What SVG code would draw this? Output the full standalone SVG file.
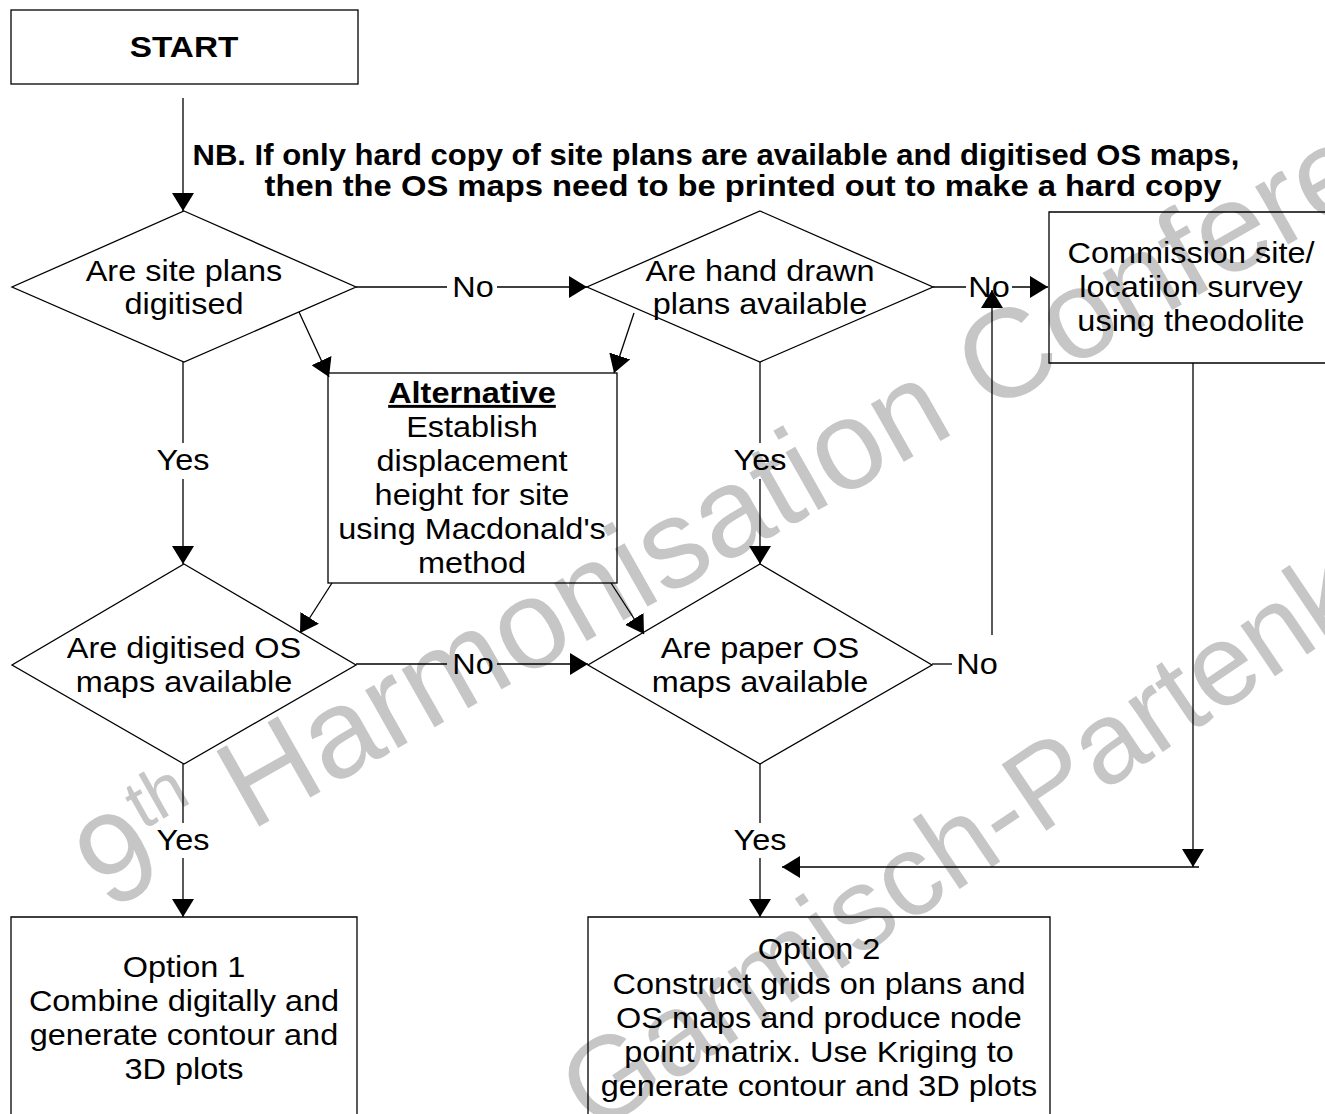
<svg xmlns="http://www.w3.org/2000/svg" width="1325" height="1114" viewBox="0 0 1325 1114">
<style>
.box{fill:none;stroke:#000;stroke-width:1.3}
.ln{fill:none;stroke:#000;stroke-width:1.3}
.arr{marker-end:url(#ah)}
.t{font-family:"Liberation Sans",Arial,sans-serif;font-size:29.5px;text-anchor:middle;fill:#000}
.b{font-weight:bold}
.wm{font-family:"Liberation Sans",Arial,sans-serif;fill:#c6c6c6}
</style>
<defs>
<marker id="ah" viewBox="0 0 18 22" refX="18" refY="11" markerWidth="18" markerHeight="22" markerUnits="userSpaceOnUse" orient="auto">
<path d="M0,0 L18,11 L0,22 Z" fill="#000"/>
</marker>
</defs>
<rect width="1325" height="1114" fill="#fff"/>

<g id="watermark" class="wm">
<text transform="rotate(-29.5 108 912)" x="108" y="912" font-size="126">9<tspan font-size="70" dy="-54">th</tspan><tspan font-size="126" dy="54"> Harmonisation Conference</tspan></text>
<text transform="rotate(-34 595 1135)" x="595" y="1135" font-size="116">Garmisch-Partenkirchen</text>
</g>

<g id="connectors">
<line class="ln arr" x1="183" y1="98" x2="183" y2="211"/>
<line class="ln" x1="356" y1="287" x2="447" y2="287"/>
<line class="ln arr" x1="497" y1="287" x2="587" y2="287"/>
<text class="t" transform="matrix(1.1 0 0 1 -47.3 0)" x="473" y="297">No</text>
<line class="ln" x1="933" y1="287" x2="966" y2="287"/>
<line class="ln arr" x1="1012" y1="287" x2="1048" y2="287"/>
<text class="t" transform="matrix(1.1 0 0 1 -98.9 0)" x="989" y="297">No</text>
<line class="ln arr" x1="299" y1="312" x2="329" y2="377"/>
<line class="ln arr" x1="634" y1="313" x2="614" y2="373"/>
<line class="ln arr" x1="332" y1="583" x2="300" y2="633"/>
<line class="ln arr" x1="611" y1="583" x2="644" y2="634"/>
<line class="ln" x1="183" y1="362" x2="183" y2="443"/>
<line class="ln arr" x1="183" y1="479" x2="183" y2="564"/>
<text class="t" transform="matrix(1.1 0 0 1 -18.3 0)" x="183" y="470">Yes</text>
<line class="ln" x1="760" y1="362" x2="760" y2="443"/>
<line class="ln arr" x1="760" y1="479" x2="760" y2="564"/>
<text class="t" transform="matrix(1.1 0 0 1 -76 0)" x="760" y="470">Yes</text>
<line class="ln" x1="356" y1="664" x2="447" y2="664"/>
<line class="ln arr" x1="497" y1="664" x2="588" y2="664"/>
<text class="t" transform="matrix(1.1 0 0 1 -47.3 0)" x="473" y="674">No</text>
<line class="ln" x1="932" y1="664" x2="952" y2="664"/>
<text class="t" transform="matrix(1.1 0 0 1 -97.7 0)" x="977" y="674">No</text>
<line class="ln arr" x1="992" y1="635" x2="992" y2="290"/>
<line class="ln" x1="183" y1="764" x2="183" y2="823"/>
<line class="ln arr" x1="183" y1="858" x2="183" y2="917"/>
<text class="t" transform="matrix(1.1 0 0 1 -18.3 0)" x="183" y="850">Yes</text>
<line class="ln" x1="760" y1="764" x2="760" y2="823"/>
<line class="ln arr" x1="760" y1="858" x2="760" y2="917"/>
<text class="t" transform="matrix(1.1 0 0 1 -76 0)" x="760" y="850">Yes</text>
<line class="ln arr" x1="1193" y1="363" x2="1193" y2="867"/>
<line class="ln arr" x1="1199" y1="867" x2="782" y2="867"/>
</g>

<g id="start">
<rect class="box" x="11" y="10" width="347" height="74"/>
<text class="t b" transform="matrix(1.13 0 0 1 -23.9 0)" x="184" y="57" font-size="27">START</text>
</g>

<g id="note">
<text class="t b" x="716" y="165" font-size="22" textLength="1047" lengthAdjust="spacingAndGlyphs">NB. If only hard copy of site plans are available and digitised OS maps,</text>
<text class="t b" x="743" y="196" font-size="22" textLength="957" lengthAdjust="spacingAndGlyphs">then the OS maps need to be printed out to make a hard copy</text>
</g>

<g id="d1">
<polygon class="box" points="184,211 356,287 184,362 12,287"/>
<g transform="matrix(1.1 0 0 1 -18.4 0)">
<text class="t" x="184" y="281">Are site plans</text>
<text class="t" x="184" y="314">digitised</text>
</g>
</g>

<g id="d2">
<polygon class="box" points="760,211 933,287 760,362 587,287"/>
<g transform="matrix(1.1 0 0 1 -76 0)">
<text class="t" x="760" y="281">Are hand drawn</text>
<text class="t" x="760" y="314">plans available</text>
</g>
</g>

<g id="survey">
<path class="box" d="M1330,212 H1049 V363 H1330"/>
<g transform="matrix(1.1 0 0 1 -119.1 0)">
<text class="t" x="1191" y="263">Commission site/</text>
<text class="t" x="1191" y="297">locatiion survey</text>
<text class="t" x="1191" y="331">using theodolite</text>
</g>
</g>

<g id="alternative">
<rect class="box" x="328" y="373" width="289" height="210"/>
<g transform="matrix(1.1 0 0 1 -47.2 0)">
<text class="t b" x="472" y="403" text-decoration="underline">Alternative</text>
<text class="t" x="472" y="437">Establish</text>
<text class="t" x="472" y="471">displacement</text>
<text class="t" x="472" y="505">height for site</text>
<text class="t" x="472" y="539">using Macdonald's</text>
<text class="t" x="472" y="573">method</text>
</g>
</g>

<g id="d3">
<polygon class="box" points="184,564 356,665 184,764 12,665"/>
<g transform="matrix(1.1 0 0 1 -18.4 0)">
<text class="t" x="184" y="658">Are digitised OS</text>
<text class="t" x="184" y="692">maps available</text>
</g>
</g>

<g id="d4">
<polygon class="box" points="760,564 932,665 760,764 588,665"/>
<g transform="matrix(1.1 0 0 1 -76 0)">
<text class="t" x="760" y="658">Are paper OS</text>
<text class="t" x="760" y="692">maps available</text>
</g>
</g>

<g id="option1">
<path class="box" d="M11,1120 V917 H357 V1120"/>
<g transform="matrix(1.1 0 0 1 -18.4 0)">
<text class="t" x="184" y="977">Option 1</text>
<text class="t" x="184" y="1011">Combine digitally and</text>
<text class="t" x="184" y="1045">generate contour and</text>
<text class="t" x="184" y="1079">3D plots</text>
</g>
</g>

<g id="option2">
<path class="box" d="M588,1120 V917 H1050 V1120"/>
<g transform="matrix(1.1 0 0 1 -81.9 0)">
<text class="t" x="819" y="959">Option 2</text>
<text class="t" x="819" y="994">Construct grids on plans and</text>
<text class="t" x="819" y="1028">OS maps and produce node</text>
<text class="t" x="819" y="1062">point matrix. Use Kriging to</text>
<text class="t" x="819" y="1096">generate contour and 3D plots</text>
</g>
</g>
</svg>
